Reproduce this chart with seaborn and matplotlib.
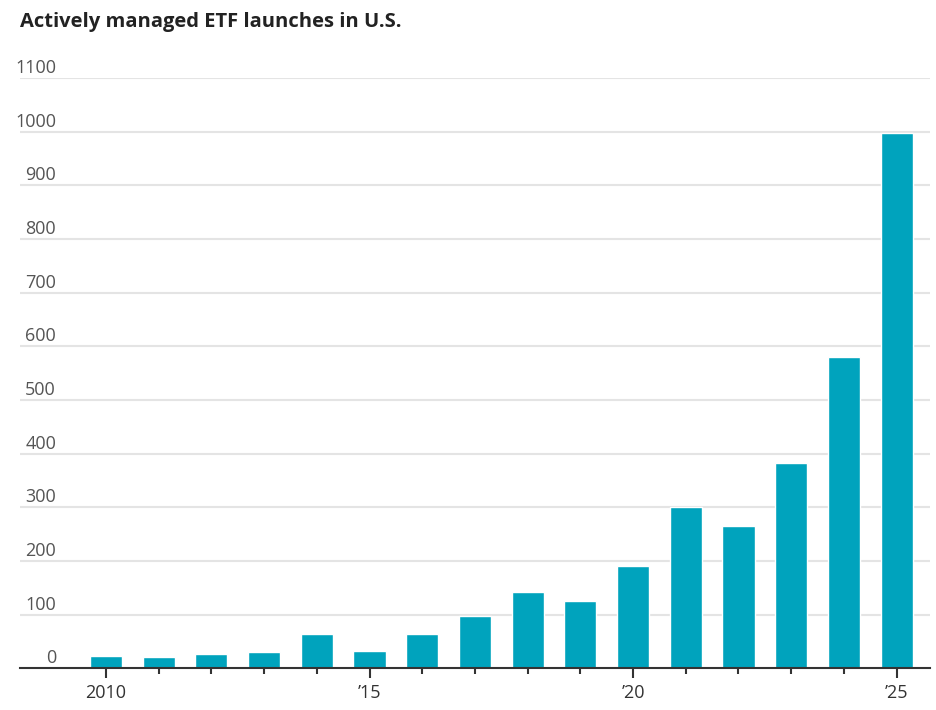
import matplotlib

matplotlib.use("Agg")
import matplotlib.pyplot as plt
import matplotlib.transforms as mtransforms
import pandas as pd
import seaborn as sns

years = list(range(2010, 2026))
launches = [24, 21, 27, 30, 65, 33, 65, 98, 142, 125, 191, 300, 265, 383, 580, 997]
y_ticks = [0, 100, 200, 300, 400, 500, 600, 700, 800, 900, 1000, 1100]
x_tick_labels = {2010: "2010", 2015: "\u201915", 2020: "\u201920", 2025: "\u201925"}

df = pd.DataFrame({"year": years, "launches": launches})

sns.set_theme(style="white")
plt.rcParams["font.family"] = ["Open Sans", "DejaVu Sans"]

fig = plt.figure(figsize=(9.36, 7.10), dpi=100)
ax = fig.add_axes([0.0214, 0.0585, 0.972, 0.8315])

sns.barplot(data=df, x="year", y="launches", order=years, color="#00a3bd",
            width=0.61, saturation=1, ax=ax, zorder=3)

ax.set_xlim(-1.63, len(years) - 1 + 0.63)
ax.set_ylim(0, 1100)

# gridlines
for v in y_ticks[1:]:
    ax.axhline(v, color="#e4e4e4", lw=1.5, zorder=1)
ax.set_yticks([])

# y labels sit right-aligned just above the gridlines
trans = mtransforms.blended_transform_factory(fig.transFigure, ax.transData)
for v in y_ticks:
    ax.text(56 / 936, v + 2, str(v), transform=trans, ha="right", va="bottom",
            fontsize=13, color="#555555")

for s in ["top", "right", "left"]:
    ax.spines[s].set_visible(False)
ax.spines["bottom"].set_color("#333333")
ax.spines["bottom"].set_linewidth(1.5)
ax.spines["bottom"].set_zorder(4)

pos = list(range(len(years)))
major = [i for i, y in enumerate(years) if y in x_tick_labels]
minor = [i for i in pos if i not in major]
ax.set_xticks(major)
ax.set_xticklabels([x_tick_labels[years[i]] for i in major])
ax.set_xticks(minor, minor=True)
ax.tick_params(axis="x", which="major", bottom=True, length=7, width=1.5,
               color="#333333", labelsize=13, labelcolor="#333333", pad=4)
ax.tick_params(axis="x", which="minor", bottom=True, length=4, width=1.5,
               color="#333333")
ax.set_xlabel("")
ax.set_ylabel("")

fig.text(20 / 936, 1 - 22 / 710, "Actively managed ETF launches in U.S.",
         fontsize=14.5, fontweight="bold", color="#222222", ha="left", va="center")

fig.savefig("out.png", dpi=100)
